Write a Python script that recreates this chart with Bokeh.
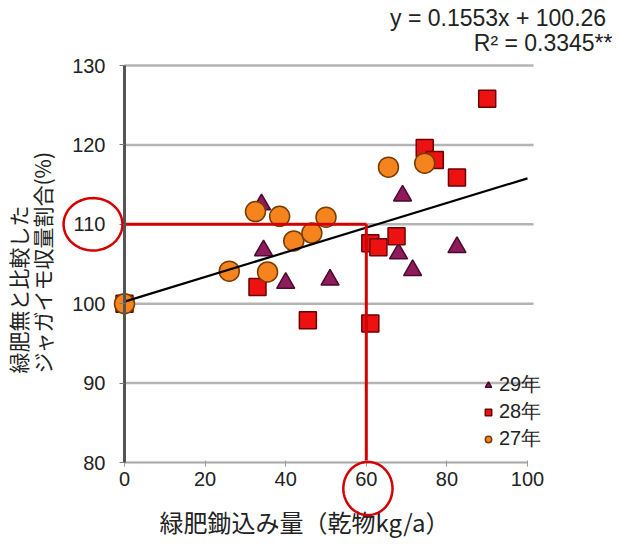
import numpy as np
from bokeh.plotting import figure
from bokeh.models import (Range1d, FixedTicker, Legend, LegendItem, Label,
                          PolyAnnotation, LinearAxis)
from bokeh.embed import file_html
from bokeh.resources import INLINE

# ---- data ----
x29 = [0, 34, 34.5, 40, 51, 69, 68, 71.5, 82.5]
y29 = [100, 112.5, 106.7, 102.6, 103, 113.6, 106.3, 104.2, 107.1]
x28 = [0, 33, 45.5, 61, 63, 61, 67.5, 74.5, 77, 82.5, 90]
y28 = [100, 102.1, 97.9, 107.6, 107.1, 97.5, 108.5, 119.6, 118.1, 115.9, 125.8]
x27 = [0, 26, 32.5, 35.5, 38.5, 42, 46.5, 50, 65.5, 74.5]
y27 = [100, 104.1, 111.6, 104, 111, 107.9, 108.9, 110.9, 117.2, 117.7]
slope, intercept = 0.1553, 100.26
eq_text = "y = 0.1553x +  100.26"
r2_text = "R² = 0.3345**"
ref_x, ref_y = 60, 110
xticks = [0, 20, 40, 60, 80, 100]
yticks = [80, 90, 100, 110, 120, 130]
series_names = ["29年", "28年", "27年"]
x_label = "緑肥鋤込み量（乾物kg/a）"
y_label_lines = ["緑肥無と比較した", "ジャガイモ収量割合(%)"]

FONT = "Noto Sans CJK JP"
NUMFONT = "Liberation Sans"
TXT = "#222222"

# ---- layout: frame fills the canvas, axes are placed inside it ----
W, H = 612, 540
X0PX, X1PX = 124, 527       # canvas px of x = 0 and x = 100
Y1PX, Y0PX = 65, 462        # canvas px of y = 130 and y = 80
sx = (X1PX - X0PX) / (xticks[-1] - xticks[0])
sy = (Y0PX - Y1PX) / (yticks[-1] - yticks[0])


def dx(px):   # canvas px -> data x (for annotation placement)
    return xticks[0] + (px - X0PX) / sx


def dy(py):   # canvas px -> data y (for annotation placement)
    return yticks[-1] - (py - Y1PX) / sy


x_range = Range1d(dx(0), dx(W))
y_range = Range1d(dy(H), dy(0))

p = figure(width=W, height=H, x_range=x_range, y_range=y_range,
           x_axis_location=None, y_axis_location=None, min_border=0,
           output_backend="svg", toolbar_location=None,
           background_fill_color="white", border_fill_color="white")
p.outline_line_color = None
p.grid.visible = False

# horizontal grid lines
grid_y = yticks[1:]
p.segment(x0=[xticks[0]] * len(grid_y), x1=[xticks[-1] + 1.5] * len(grid_y),
          y0=grid_y, y1=grid_y, line_color="#b4b4b4", line_width=2.5,
          level="underlay")

# y axis: line + ticks at x = 0, labels from a twin axis set slightly left
yax = LinearAxis(fixed_location=xticks[0], bounds=(yticks[0], yticks[-1]),
                 ticker=FixedTicker(ticks=yticks))
yax.axis_line_color = "#555555"
yax.axis_line_width = 3
yax.major_tick_line_color = "#777777"
yax.major_tick_out = 5
yax.major_tick_in = 0
yax.minor_tick_line_color = None
yax.major_label_text_color = None

ylab = LinearAxis(fixed_location=dx(115), bounds=(yticks[0], yticks[-1]),
                  ticker=FixedTicker(ticks=yticks))
ylab.axis_line_color = None
ylab.major_tick_line_color = None
ylab.minor_tick_line_color = None
ylab.major_tick_out = 5
ylab.major_label_text_font = NUMFONT
ylab.major_label_text_font_size = "20px"
ylab.major_label_text_color = TXT

xax = LinearAxis(fixed_location=yticks[0], bounds=(xticks[0], xticks[-1]),
                 ticker=FixedTicker(ticks=xticks))
xax.axis_line_color = "#a8a8a8"
xax.axis_line_width = 2
xax.major_tick_line_color = "#999999"
xax.major_tick_out = 4
xax.major_tick_in = 2
xax.minor_tick_line_color = None
xax.major_label_text_font = NUMFONT
xax.major_label_text_font_size = "20px"
xax.major_label_text_color = TXT

p.add_layout(ylab, "left")
p.add_layout(yax, "left")
p.add_layout(xax, "below")

# axis titles
p.add_layout(Label(x=dx(304), y=dy(521), text=x_label, text_align="center",
                   text_baseline="middle", text_font=FONT,
                   text_font_size="24px", text_color=TXT))
for lx, line in zip([17, 41], y_label_lines):
    p.add_layout(Label(x=dx(lx), y=dy(373), text=line, angle=np.pi / 2,
                       text_align="left", text_baseline="middle",
                       text_font=FONT, text_font_size="21px",
                       text_color=TXT))

# markers
r29 = p.scatter(x29, y29, marker="triangle", size=18, fill_color="#8E1B5C",
                line_color="#4a0a2c", line_width=1.5)
r28 = p.scatter(x28, y28, marker="square", size=17, fill_color="#EE1111",
                line_color="#6b0000", line_width=1.5)
r27 = p.scatter(x27, y27, marker="circle", size=20, fill_color="#F5841F",
                line_color="#7a3b00", line_width=1.5)

# regression line
xr = np.array([xticks[0], xticks[-1]], dtype=float)
p.line(xr, slope * xr + intercept, line_color="black", line_width=2.2)

# reference red lines
red = "#D40000"
p.line([-0.5, ref_x], [ref_y, ref_y], line_color=red, line_width=3)
p.line([ref_x, ref_x], [ref_y, yticks[0] + 0.25], line_color=red, line_width=3)

# ellipses around the 110 and 60 tick labels
t = np.linspace(0, 2 * np.pi, 90)
e1x = dx(92.5) + 7.3 * np.cos(t)
e1y = ref_y + 3.3 * np.sin(t)
p.add_layout(PolyAnnotation(xs=list(e1x), ys=list(e1y), fill_alpha=0,
                            line_color=red, line_alpha=1, line_width=2.5))
e2x = ref_x + 0.4 + 6.1 * np.cos(t)
e2y = dy(488) + 3.35 * np.sin(t)
p.add_layout(PolyAnnotation(xs=list(e2x), ys=list(e2y), fill_alpha=0,
                            line_color=red, line_alpha=1, line_width=2.5))

# equation text (top right)
p.add_layout(Label(x=dx(612), y=dy(17), text=eq_text,
                   text_align="right", text_baseline="middle",
                   text_font=NUMFONT, text_font_size="23px", text_color=TXT))
p.add_layout(Label(x=dx(612), y=dy(42), text=r2_text,
                   text_align="right", text_baseline="middle",
                   text_font=NUMFONT, text_font_size="23px", text_color=TXT))

legend = Legend(items=[LegendItem(label=series_names[0], renderers=[r29]),
                       LegendItem(label=series_names[1], renderers=[r28]),
                       LegendItem(label=series_names[2], renderers=[r27])],
                location=(480, 88))
legend.background_fill_alpha = 0
legend.border_line_color = None
legend.label_text_font = NUMFONT
legend.label_text_font_size = "20px"
legend.label_text_color = TXT
legend.glyph_width = 16
legend.glyph_height = 16
legend.label_height = 20
legend.spacing = -3
legend.padding = 0
legend.margin = 0
legend.label_standoff = 3
p.add_layout(legend)

open("out.html", "w").write(file_html(p, INLINE))
